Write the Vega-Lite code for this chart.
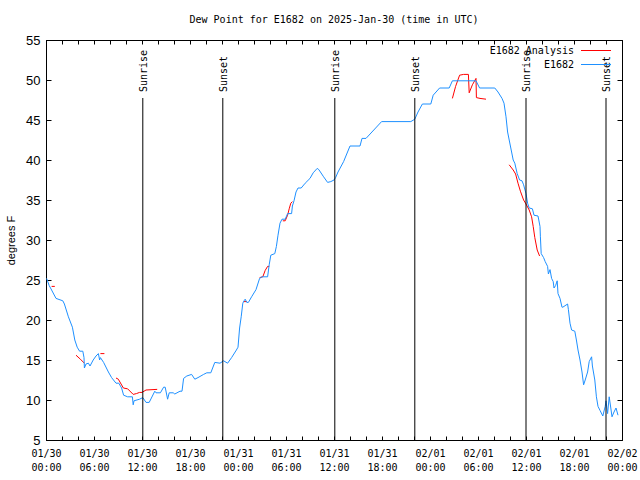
{
  "$schema": "https://vega.github.io/schema/vega-lite/v6.json",
  "width": 576,
  "height": 400,
  "autosize": {"type": "none"},
  "padding": {"left": 46, "top": 40, "right": 18, "bottom": 40},
  "background": "white",
  "title": {"text": "Dew Point for E1682 on 2025-Jan-30 (time in UTC)", "font": "DejaVu Sans Mono", "fontSize": 10, "fontWeight": "normal", "anchor": "middle", "offset": 9, "color": "black"},
  "config": {
    "view": {"stroke": "black", "strokeWidth": 1},
    "axis": {"grid": false, "domainColor": "black", "tickColor": "black", "labelColor": "black", "titleColor": "black"}
  },
  "datasets": {
    "analysis": [
      {"series": "E1682 Analysis", "seg": "a1", "h": 0.7, "v": 24.2},
      {"series": "E1682 Analysis", "seg": "a1", "h": 1.1, "v": 24.2},
      {"series": "E1682 Analysis", "seg": "a2", "h": 3.75, "v": 15.6},
      {"series": "E1682 Analysis", "seg": "a2", "h": 4.3, "v": 15.1},
      {"series": "E1682 Analysis", "seg": "a2", "h": 4.8, "v": 14.6},
      {"series": "E1682 Analysis", "seg": "a3", "h": 6.8, "v": 15.8},
      {"series": "E1682 Analysis", "seg": "a3", "h": 7.3, "v": 15.8},
      {"series": "E1682 Analysis", "seg": "a4", "h": 8.75, "v": 12.75},
      {"series": "E1682 Analysis", "seg": "a4", "h": 9.04, "v": 12.6},
      {"series": "E1682 Analysis", "seg": "a4", "h": 9.67, "v": 11.5},
      {"series": "E1682 Analysis", "seg": "a4", "h": 10.2, "v": 11.4},
      {"series": "E1682 Analysis", "seg": "a4", "h": 10.9, "v": 10.7},
      {"series": "E1682 Analysis", "seg": "a4", "h": 11.3, "v": 10.8},
      {"series": "E1682 Analysis", "seg": "a4", "h": 11.7, "v": 10.95},
      {"series": "E1682 Analysis", "seg": "a4", "h": 12.0, "v": 10.95},
      {"series": "E1682 Analysis", "seg": "a4", "h": 12.5, "v": 11.25},
      {"series": "E1682 Analysis", "seg": "a4", "h": 13.9, "v": 11.33},
      {"series": "E1682 Analysis", "seg": "a5", "h": 24.75, "v": 22.3},
      {"series": "E1682 Analysis", "seg": "a5", "h": 25.1, "v": 22.3},
      {"series": "E1682 Analysis", "seg": "a6", "h": 26.7, "v": 25.3},
      {"series": "E1682 Analysis", "seg": "a6", "h": 27.1, "v": 25.4},
      {"series": "E1682 Analysis", "seg": "a6", "h": 27.4, "v": 26.2},
      {"series": "E1682 Analysis", "seg": "a6", "h": 27.7, "v": 26.7},
      {"series": "E1682 Analysis", "seg": "a6", "h": 27.9, "v": 26.7},
      {"series": "E1682 Analysis", "seg": "a7", "h": 29.6, "v": 32.4},
      {"series": "E1682 Analysis", "seg": "a7", "h": 29.9, "v": 32.4},
      {"series": "E1682 Analysis", "seg": "a7", "h": 30.2, "v": 33.1},
      {"series": "E1682 Analysis", "seg": "a7", "h": 30.4, "v": 33.9},
      {"series": "E1682 Analysis", "seg": "a7", "h": 30.6, "v": 34.6},
      {"series": "E1682 Analysis", "seg": "a7", "h": 30.8, "v": 34.8},
      {"series": "E1682 Analysis", "seg": "a8", "h": 50.8, "v": 47.7},
      {"series": "E1682 Analysis", "seg": "a8", "h": 51.2, "v": 49.2},
      {"series": "E1682 Analysis", "seg": "a8", "h": 51.7, "v": 50.6},
      {"series": "E1682 Analysis", "seg": "a8", "h": 52.2, "v": 50.7},
      {"series": "E1682 Analysis", "seg": "a8", "h": 52.8, "v": 50.7},
      {"series": "E1682 Analysis", "seg": "a8", "h": 52.9, "v": 48.4},
      {"series": "E1682 Analysis", "seg": "a8", "h": 53.3, "v": 49.4},
      {"series": "E1682 Analysis", "seg": "a8", "h": 53.75, "v": 50.2},
      {"series": "E1682 Analysis", "seg": "a8", "h": 53.8, "v": 47.8},
      {"series": "E1682 Analysis", "seg": "a8", "h": 54.25, "v": 47.7},
      {"series": "E1682 Analysis", "seg": "a8", "h": 55.0, "v": 47.6},
      {"series": "E1682 Analysis", "seg": "a9", "h": 57.9, "v": 39.4},
      {"series": "E1682 Analysis", "seg": "a9", "h": 58.4, "v": 38.75},
      {"series": "E1682 Analysis", "seg": "a9", "h": 58.7, "v": 38.25},
      {"series": "E1682 Analysis", "seg": "a9", "h": 59.0, "v": 37.1},
      {"series": "E1682 Analysis", "seg": "a9", "h": 59.3, "v": 36.1},
      {"series": "E1682 Analysis", "seg": "a9", "h": 59.7, "v": 35.0},
      {"series": "E1682 Analysis", "seg": "a9", "h": 60.0, "v": 34.5},
      {"series": "E1682 Analysis", "seg": "a9", "h": 60.4, "v": 33.75},
      {"series": "E1682 Analysis", "seg": "a9", "h": 60.7, "v": 32.9},
      {"series": "E1682 Analysis", "seg": "a9", "h": 60.9, "v": 31.7},
      {"series": "E1682 Analysis", "seg": "a9", "h": 61.1, "v": 30.3},
      {"series": "E1682 Analysis", "seg": "a9", "h": 61.4, "v": 28.75},
      {"series": "E1682 Analysis", "seg": "a9", "h": 61.7, "v": 28.0}
    ],
    "station": [
      {"series": "E1682", "h": 0.08, "v": 25.2},
      {"series": "E1682", "h": 0.4, "v": 24.3},
      {"series": "E1682", "h": 0.7, "v": 23.75},
      {"series": "E1682", "h": 1.25, "v": 22.7},
      {"series": "E1682", "h": 2.1, "v": 22.4},
      {"series": "E1682", "h": 2.3, "v": 22.0},
      {"series": "E1682", "h": 2.8, "v": 20.4},
      {"series": "E1682", "h": 3.3, "v": 19.1},
      {"series": "E1682", "h": 3.6, "v": 17.5},
      {"series": "E1682", "h": 3.9, "v": 16.6},
      {"series": "E1682", "h": 4.2, "v": 16.1},
      {"series": "E1682", "h": 4.6, "v": 16.1},
      {"series": "E1682", "h": 4.75, "v": 15.3},
      {"series": "E1682", "h": 4.8, "v": 14.0},
      {"series": "E1682", "h": 5.0, "v": 14.5},
      {"series": "E1682", "h": 5.3, "v": 14.6},
      {"series": "E1682", "h": 5.5, "v": 14.25},
      {"series": "E1682", "h": 5.9, "v": 15.0},
      {"series": "E1682", "h": 6.25, "v": 15.5},
      {"series": "E1682", "h": 6.55, "v": 15.8},
      {"series": "E1682", "h": 6.7, "v": 15.0},
      {"series": "E1682", "h": 6.8, "v": 15.3},
      {"series": "E1682", "h": 7.2, "v": 14.7},
      {"series": "E1682", "h": 7.8, "v": 13.5},
      {"series": "E1682", "h": 8.2, "v": 12.8},
      {"series": "E1682", "h": 8.75, "v": 12.1},
      {"series": "E1682", "h": 9.1, "v": 12.1},
      {"series": "E1682", "h": 9.45, "v": 11.5},
      {"series": "E1682", "h": 9.7, "v": 10.6},
      {"series": "E1682", "h": 10.2, "v": 10.4},
      {"series": "E1682", "h": 10.8, "v": 10.4},
      {"series": "E1682", "h": 10.9, "v": 9.4},
      {"series": "E1682", "h": 11.0, "v": 9.9},
      {"series": "E1682", "h": 11.7, "v": 10.1},
      {"series": "E1682", "h": 12.1, "v": 10.3},
      {"series": "E1682", "h": 12.5, "v": 9.7},
      {"series": "E1682", "h": 12.9, "v": 9.7},
      {"series": "E1682", "h": 13.6, "v": 11.1},
      {"series": "E1682", "h": 13.75, "v": 10.9},
      {"series": "E1682", "h": 14.3, "v": 10.9},
      {"series": "E1682", "h": 14.7, "v": 11.6},
      {"series": "E1682", "h": 14.9, "v": 11.6},
      {"series": "E1682", "h": 15.2, "v": 10.1},
      {"series": "E1682", "h": 15.4, "v": 10.9},
      {"series": "E1682", "h": 15.9, "v": 10.9},
      {"series": "E1682", "h": 16.1, "v": 10.75},
      {"series": "E1682", "h": 16.75, "v": 11.1},
      {"series": "E1682", "h": 17.0, "v": 11.1},
      {"series": "E1682", "h": 17.2, "v": 12.7},
      {"series": "E1682", "h": 17.6, "v": 13.0},
      {"series": "E1682", "h": 18.2, "v": 13.2},
      {"series": "E1682", "h": 18.6, "v": 12.6},
      {"series": "E1682", "h": 19.0, "v": 12.8},
      {"series": "E1682", "h": 19.7, "v": 13.2},
      {"series": "E1682", "h": 20.1, "v": 13.4},
      {"series": "E1682", "h": 20.6, "v": 13.4},
      {"series": "E1682", "h": 21.1, "v": 14.7},
      {"series": "E1682", "h": 21.75, "v": 14.6},
      {"series": "E1682", "h": 22.2, "v": 14.9},
      {"series": "E1682", "h": 22.7, "v": 14.6},
      {"series": "E1682", "h": 23.2, "v": 15.3},
      {"series": "E1682", "h": 23.8, "v": 16.25},
      {"series": "E1682", "h": 24.0, "v": 16.6},
      {"series": "E1682", "h": 24.2, "v": 19.0},
      {"series": "E1682", "h": 24.4, "v": 20.4},
      {"series": "E1682", "h": 24.6, "v": 22.1},
      {"series": "E1682", "h": 24.75, "v": 22.4},
      {"series": "E1682", "h": 24.9, "v": 22.6},
      {"series": "E1682", "h": 25.1, "v": 22.2},
      {"series": "E1682", "h": 25.3, "v": 22.2},
      {"series": "E1682", "h": 25.7, "v": 22.9},
      {"series": "E1682", "h": 26.25, "v": 23.8},
      {"series": "E1682", "h": 26.7, "v": 25.2},
      {"series": "E1682", "h": 27.0, "v": 25.4},
      {"series": "E1682", "h": 27.7, "v": 25.4},
      {"series": "E1682", "h": 27.9, "v": 26.9},
      {"series": "E1682", "h": 28.1, "v": 28.1},
      {"series": "E1682", "h": 28.6, "v": 28.3},
      {"series": "E1682", "h": 28.8, "v": 29.2},
      {"series": "E1682", "h": 29.0, "v": 30.6},
      {"series": "E1682", "h": 29.25, "v": 32.1},
      {"series": "E1682", "h": 29.5, "v": 32.6},
      {"series": "E1682", "h": 29.9, "v": 32.6},
      {"series": "E1682", "h": 30.2, "v": 33.3},
      {"series": "E1682", "h": 30.7, "v": 33.3},
      {"series": "E1682", "h": 30.8, "v": 34.25},
      {"series": "E1682", "h": 31.0, "v": 34.9},
      {"series": "E1682", "h": 31.25, "v": 36.0},
      {"series": "E1682", "h": 31.5, "v": 36.5},
      {"series": "E1682", "h": 31.9, "v": 36.5},
      {"series": "E1682", "h": 32.4, "v": 37.1},
      {"series": "E1682", "h": 33.0, "v": 37.7},
      {"series": "E1682", "h": 33.4, "v": 38.4},
      {"series": "E1682", "h": 33.9, "v": 38.95},
      {"series": "E1682", "h": 34.1, "v": 38.8},
      {"series": "E1682", "h": 34.7, "v": 37.9},
      {"series": "E1682", "h": 35.2, "v": 37.2},
      {"series": "E1682", "h": 35.6, "v": 37.3},
      {"series": "E1682", "h": 36.0, "v": 37.5},
      {"series": "E1682", "h": 36.2, "v": 37.8},
      {"series": "E1682", "h": 36.5, "v": 38.5},
      {"series": "E1682", "h": 37.2, "v": 39.8},
      {"series": "E1682", "h": 38.0, "v": 41.75},
      {"series": "E1682", "h": 39.25, "v": 41.75},
      {"series": "E1682", "h": 39.5, "v": 42.7},
      {"series": "E1682", "h": 40.0, "v": 42.7},
      {"series": "E1682", "h": 41.95, "v": 44.8},
      {"series": "E1682", "h": 45.6, "v": 44.8},
      {"series": "E1682", "h": 46.1, "v": 45.1},
      {"series": "E1682", "h": 46.5, "v": 46.0},
      {"series": "E1682", "h": 47.05, "v": 47.0},
      {"series": "E1682", "h": 48.1, "v": 47.0},
      {"series": "E1682", "h": 48.4, "v": 48.1},
      {"series": "E1682", "h": 49.2, "v": 49.0},
      {"series": "E1682", "h": 50.4, "v": 49.0},
      {"series": "E1682", "h": 50.8, "v": 49.9},
      {"series": "E1682", "h": 53.75, "v": 49.9},
      {"series": "E1682", "h": 54.2, "v": 49.0},
      {"series": "E1682", "h": 56.1, "v": 49.0},
      {"series": "E1682", "h": 56.5, "v": 48.5},
      {"series": "E1682", "h": 57.0, "v": 47.7},
      {"series": "E1682", "h": 57.25, "v": 47.1},
      {"series": "E1682", "h": 57.5, "v": 45.4},
      {"series": "E1682", "h": 57.7, "v": 43.5},
      {"series": "E1682", "h": 57.9, "v": 42.5},
      {"series": "E1682", "h": 58.2, "v": 41.0},
      {"series": "E1682", "h": 58.4, "v": 40.0},
      {"series": "E1682", "h": 58.6, "v": 39.6},
      {"series": "E1682", "h": 58.9, "v": 38.3},
      {"series": "E1682", "h": 59.2, "v": 37.5},
      {"series": "E1682", "h": 59.5, "v": 37.4},
      {"series": "E1682", "h": 59.7, "v": 36.9},
      {"series": "E1682", "h": 60.0, "v": 35.8},
      {"series": "E1682", "h": 60.2, "v": 34.6},
      {"series": "E1682", "h": 60.4, "v": 34.0},
      {"series": "E1682", "h": 60.8, "v": 33.9},
      {"series": "E1682", "h": 61.0, "v": 33.1},
      {"series": "E1682", "h": 61.5, "v": 33.0},
      {"series": "E1682", "h": 61.75, "v": 31.7},
      {"series": "E1682", "h": 61.8, "v": 30.4},
      {"series": "E1682", "h": 61.9, "v": 28.3},
      {"series": "E1682", "h": 62.2, "v": 27.8},
      {"series": "E1682", "h": 62.4, "v": 27.3},
      {"series": "E1682", "h": 62.7, "v": 26.7},
      {"series": "E1682", "h": 62.8, "v": 25.75},
      {"series": "E1682", "h": 63.0, "v": 26.3},
      {"series": "E1682", "h": 63.2, "v": 25.2},
      {"series": "E1682", "h": 63.4, "v": 24.8},
      {"series": "E1682", "h": 63.5, "v": 24.0},
      {"series": "E1682", "h": 63.7, "v": 24.3},
      {"series": "E1682", "h": 63.9, "v": 24.9},
      {"series": "E1682", "h": 64.0, "v": 23.3},
      {"series": "E1682", "h": 64.25, "v": 22.7},
      {"series": "E1682", "h": 64.5, "v": 21.6},
      {"series": "E1682", "h": 64.6, "v": 21.6},
      {"series": "E1682", "h": 65.2, "v": 22.0},
      {"series": "E1682", "h": 65.3, "v": 21.3},
      {"series": "E1682", "h": 65.5, "v": 19.6},
      {"series": "E1682", "h": 65.7, "v": 18.75},
      {"series": "E1682", "h": 66.1, "v": 18.6},
      {"series": "E1682", "h": 66.3, "v": 17.5},
      {"series": "E1682", "h": 66.5, "v": 16.25},
      {"series": "E1682", "h": 66.75, "v": 15.0},
      {"series": "E1682", "h": 67.0, "v": 13.5},
      {"series": "E1682", "h": 67.2, "v": 11.9},
      {"series": "E1682", "h": 67.4, "v": 12.5},
      {"series": "E1682", "h": 67.7, "v": 13.5},
      {"series": "E1682", "h": 67.9, "v": 14.8},
      {"series": "E1682", "h": 68.2, "v": 15.4},
      {"series": "E1682", "h": 68.3, "v": 14.25},
      {"series": "E1682", "h": 68.6, "v": 12.5},
      {"series": "E1682", "h": 68.8, "v": 10.4},
      {"series": "E1682", "h": 69.0, "v": 9.2},
      {"series": "E1682", "h": 69.25, "v": 8.7},
      {"series": "E1682", "h": 69.6, "v": 8.0},
      {"series": "E1682", "h": 69.9, "v": 9.2},
      {"series": "E1682", "h": 70.0, "v": 9.9},
      {"series": "E1682", "h": 70.2, "v": 8.3},
      {"series": "E1682", "h": 70.4, "v": 10.4},
      {"series": "E1682", "h": 70.6, "v": 9.0},
      {"series": "E1682", "h": 70.75, "v": 7.9},
      {"series": "E1682", "h": 71.0, "v": 8.5},
      {"series": "E1682", "h": 71.25, "v": 9.0},
      {"series": "E1682", "h": 71.5, "v": 8.1}
    ],
    "sun": [
      {"h": 12.1, "event": "Sunrise"},
      {"h": 22.1, "event": "Sunset"},
      {"h": 36.1, "event": "Sunrise"},
      {"h": 46.1, "event": "Sunset"},
      {"h": 60.0, "event": "Sunrise"},
      {"h": 70.0, "event": "Sunset"}
    ]
  },
  "layer": [
    {
      "data": {"name": "analysis"},
      "mark": {"type": "line", "strokeWidth": 1},
      "encoding": {
        "x": {"field": "h", "type": "quantitative", "scale": {"domain": [0, 72], "nice": false, "zero": false},
          "axis": {"orient": "bottom", "title": null, "values": [0,2,4,6,8,10,12,14,16,18,20,22,24,26,28,30,32,34,36,38,40,42,44,46,48,50,52,54,56,58,60,62,64,66,68,70,72],
            "labelExpr": "datum.value % 6 == 0 ? [utcFormat(1738195200000 + datum.value * 3600000, '%m/%d'), utcFormat(1738195200000 + datum.value * 3600000, '%H:%M')] : ''",
            "labelFont": "DejaVu Sans Mono", "labelFontSize": 10, "labelLineHeight": 14, "labelOverlap": false, "labelFlush": false, "labelPadding": 12, "tickSize": -4, "domain": true}},
        "y": {"field": "v", "type": "quantitative", "scale": {"domain": [5, 55], "nice": false, "zero": false},
          "axis": {"orient": "left", "title": "degrees F", "values": [5,10,15,20,25,30,35,40,45,50,55], "labelFont": "Liberation Sans", "labelFontSize": 13, "labelPadding": 11, "tickSize": -5,
            "titleFont": "Liberation Sans", "titleFontSize": 11, "titleFontWeight": "normal", "titlePadding": 9, "domain": true}},
        "color": {"field": "series", "type": "nominal", "scale": {"domain": ["E1682 Analysis", "E1682"], "range": ["#ff0000", "#1e90ff"]},
          "legend": {"orient": "none", "legendX": 544.5, "legendY": 5, "title": null, "symbolType": "M-3,0H3", "symbolSize": 100, "symbolStrokeWidth": 1, "symbolFillColor": "transparent", "labelFont": "DejaVu Sans Mono", "labelFontSize": 10, "labelColor": "black", "labelAlign": "right", "labelOffset": -27.5, "rowPadding": 3, "padding": 0}},
        "detail": {"field": "seg"}
      }
    },
    {
      "data": {"name": "station"},
      "mark": {"type": "line", "strokeWidth": 1},
      "encoding": {
        "x": {"field": "h", "type": "quantitative", "scale": {"domain": [0, 72], "nice": false, "zero": false}, "axis": null},
        "y": {"field": "v", "type": "quantitative", "scale": {"domain": [5, 55], "nice": false, "zero": false}, "axis": null},
        "color": {"field": "series", "type": "nominal", "scale": {"domain": ["E1682 Analysis", "E1682"], "range": ["#ff0000", "#1e90ff"]}}
      }
    },
    {
      "data": {"name": "sun"},
      "mark": {"type": "rule", "color": "black", "strokeWidth": 1},
      "encoding": {
        "x": {"field": "h", "type": "quantitative", "scale": {"domain": [0, 72], "nice": false, "zero": false},
          "axis": {"orient": "top", "title": null, "labels": false, "values": [0,2,4,6,8,10,12,14,16,18,20,22,24,26,28,30,32,34,36,38,40,42,44,46,48,50,52,54,56,58,60,62,64,66,68,70,72], "tickSize": -4, "domain": true}},
        "y": {"datum": 47.75, "type": "quantitative", "scale": {"domain": [5, 55], "nice": false, "zero": false},
          "axis": {"orient": "right", "title": null, "labels": false, "values": [5,10,15,20,25,30,35,40,45,50,55], "tickSize": -5, "domain": true}},
        "y2": {"datum": 5}
      }
    },
    {
      "data": {"name": "sun"},
      "mark": {"type": "text", "angle": 270, "align": "left", "baseline": "middle", "dy": 1, "font": "DejaVu Sans Mono", "fontSize": 10, "color": "black"},
      "encoding": {
        "x": {"field": "h", "type": "quantitative", "scale": {"domain": [0, 72], "nice": false, "zero": false}, "axis": null},
        "y": {"datum": 48.5, "type": "quantitative", "scale": {"domain": [5, 55], "nice": false, "zero": false}, "axis": null},
        "text": {"field": "event"}
      }
    }
  ],
  "resolve": {"axis": {"x": "independent", "y": "independent"}}
}
